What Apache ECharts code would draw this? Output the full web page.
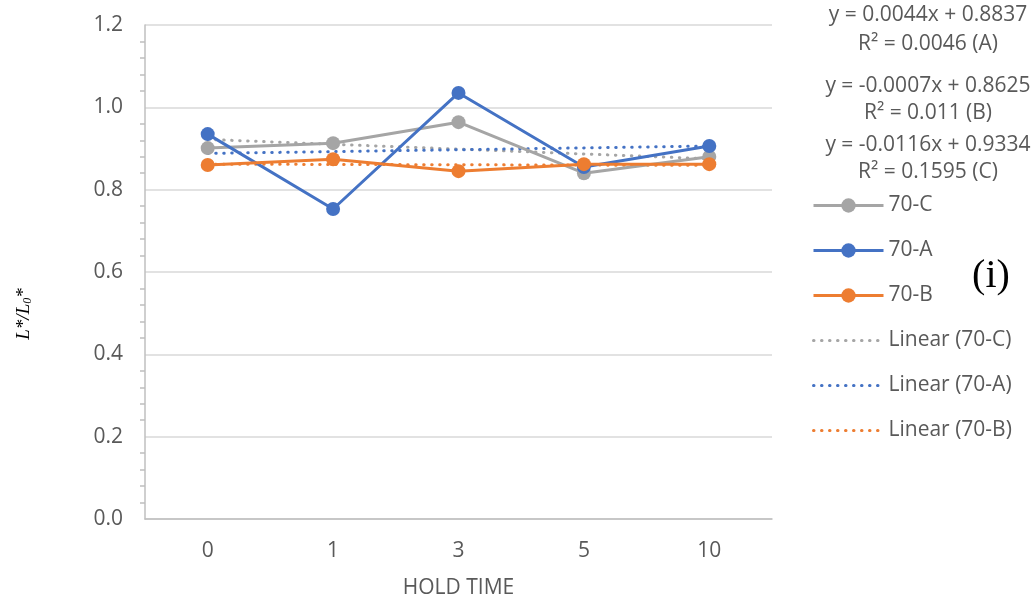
<!DOCTYPE html>
<html><head><meta charset="utf-8">
<script src="https://cdn.jsdelivr.net/npm/echarts@6/dist/echarts.min.js"></script>
<style>html,body{margin:0;padding:0;background:#fff}#c{width:1035px;height:602px}</style>
</head><body><div id="c"></div>
<script>
const categories = ['0', '1', '3', '5', '10'];
const yTicks = [0, 0.2, 0.4, 0.6, 0.8, 1.0, 1.2];
const series70C = [0.901, 0.913, 0.964, 0.840, 0.880];
const series70A = [0.935, 0.753, 1.035, 0.855, 0.906];
const series70B = [0.860, 0.874, 0.845, 0.862, 0.862];
// trendline values at the first and last category
const trend70C = [0.922, null, null, null, 0.875];
const trend70A = [0.888, null, null, null, 0.906];
const trend70B = [0.862, null, null, null, 0.859];
const equations = [
  'y = 0.0044x + 0.8837', 'R² = 0.0046 (A)',
  'y = -0.0007x + 0.8625', 'R² = 0.011 (B)',
  'y = -0.0116x + 0.9334', 'R² = 0.1595 (C)'
];
const eqY = [15, 44, 86, 113, 145, 172];
const legendNames = ['70-C', '70-A', '70-B', 'Linear (70-C)', 'Linear (70-A)', 'Linear (70-B)'];

const GRAY = '#A5A5A5', BLUE = '#4472C4', ORANGE = '#ED7D31', TXT = '#595959';
const FONT = '"Open Sans", "Liberation Sans", sans-serif';
const FS = 21;

const chart = echarts.init(document.getElementById('c'), null, {renderer: 'canvas'});
function mainSeries(name, data, color, z) {
  return {name, type: 'line', data, z, symbol: 'circle', symbolSize: 14,
    itemStyle: {color}, lineStyle: {color, width: 3}, emphasis: {disabled: true}, animation: false};
}
function trendSeries(name, data, color) {
  return {name, type: 'line', data, z: 1, symbol: 'none', connectNulls: true,
    lineStyle: {color, width: 3, type: [0.5, 7.5], cap: 'round'}, itemStyle: {color},
    emphasis: {disabled: true}, animation: false};
}
const graphics = equations.map((t, i) => ({
  type: 'text', x: 928, y: eqY[i],
  style: {text: t, fill: TXT, font: FS + 'px ' + FONT, textAlign: 'center', textVerticalAlign: 'middle'}
}));
graphics.push({type: 'text', x: 991, y: 276,
  style: {text: '(i)', fill: '#000', font: '40px "Liberation Serif", "DejaVu Serif", serif', textAlign: 'center', textVerticalAlign: 'middle'}});
graphics.push({type: 'text', x: 24, y: 314, rotation: Math.PI / 2,
  style: {text: '{a|L*/L}{s|0}{a|*}', textAlign: 'center', textVerticalAlign: 'middle',
    rich: {
      a: {fontFamily: '"Liberation Serif", serif', fontStyle: 'italic', fontSize: 19, fill: '#000'},
      s: {fontFamily: '"Liberation Serif", serif', fontStyle: 'italic', fontSize: 12, fill: '#000', padding: [8, 0, 0, 0]}
    }}});

chart.setOption({
  animation: false,
  grid: {left: 145, top: 25, right: 263, bottom: 83, containLabel: false, outerBoundsMode: 'none'},
  legend: {
    orient: 'vertical', left: 807, top: 190, itemWidth: 70, itemHeight: 18, itemGap: 24,
    lineStyle: {width: 3},
    textStyle: {color: TXT, fontSize: FS, fontFamily: FONT, padding: [0, 0, 0, 0]},
    data: legendNames.map((n, i) => i < 3 ? n : {name: n, itemStyle: {opacity: 0}}),
    selectedMode: false
  },
  xAxis: {
    type: 'category', data: categories, boundaryGap: true,
    axisLine: {lineStyle: {color: '#BFBFBF', width: 1.5}},
    axisTick: {show: false},
    axisLabel: {color: TXT, fontSize: FS, fontFamily: FONT, margin: 22},
    name: 'HOLD TIME', nameLocation: 'middle', nameGap: 59,
    nameTextStyle: {color: TXT, fontSize: FS, fontFamily: FONT},
    splitLine: {show: false}
  },
  yAxis: {
    type: 'value', min: 0, max: 1.2, interval: 0.2,
    axisLine: {show: true, lineStyle: {color: '#BFBFBF', width: 1.5}},
    axisTick: {show: false},
    minorTick: {show: true, splitNumber: 5, length: 5, lineStyle: {color: '#BFBFBF', width: 1.5}},
    axisLabel: {color: TXT, fontSize: FS, fontFamily: FONT, margin: 22,
      formatter: v => yTicks.includes(Math.round(v * 10) / 10) ? v.toFixed(1) : ''},
    splitLine: {lineStyle: {color: '#D9D9D9', width: 1.5}}
  },
  series: [
    trendSeries('Linear (70-C)', trend70C, GRAY),
    trendSeries('Linear (70-A)', trend70A, BLUE),
    trendSeries('Linear (70-B)', trend70B, ORANGE),
    mainSeries('70-C', series70C, GRAY, 2),
    mainSeries('70-A', series70A, BLUE, 3),
    mainSeries('70-B', series70B, ORANGE, 4)
  ],
  graphic: graphics
});
</script></body></html>
